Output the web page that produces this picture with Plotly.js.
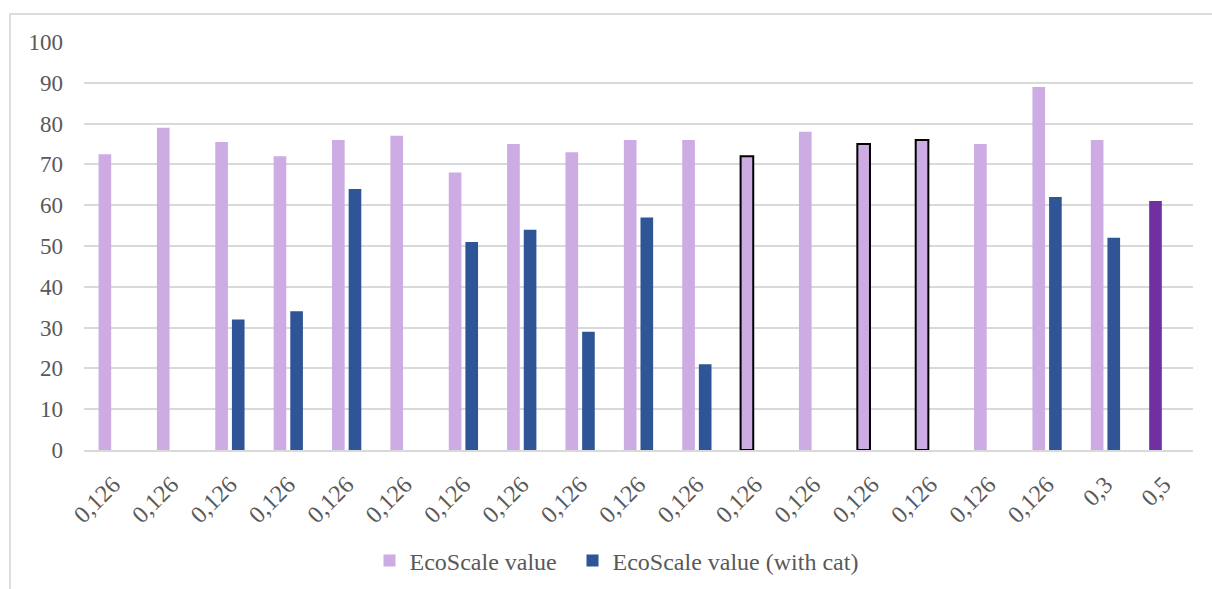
<!DOCTYPE html>
<html>
<head>
<meta charset="utf-8">
<script src="https://cdn.plot.ly/plotly-3.0.1.min.js"></script>
<style>
  html, body { margin: 0; padding: 0; background: #ffffff; }
  #wrap { position: relative; width: 1212px; height: 589px; overflow: hidden; }
  #frame {
    position: absolute; left: 9px; top: 13px; width: 1400px; height: 800px;
    border-left: 2px solid #dcdcdc; border-top: 2px solid #dcdcdc;
    pointer-events: none;
  }
  #chart { position: absolute; left: 0; top: 0; width: 1212px; height: 589px; }
</style>
</head>
<body>
<div id="wrap">
  <div id="chart"></div>
  <div id="frame"></div>
</div>
<script>
// Category labels along the x axis (catalyst loading)
const categories = [
  "0,126", "0,126", "0,126", "0,126", "0,126", "0,126", "0,126",
  "0,126", "0,126", "0,126", "0,126", "0,126", "0,126", "0,126",
  "0,126", "0,126", "0,126", "0,3", "0,5"
];

// EcoScale value
const ecoScale = [72.5, 79, 75.5, 72, 76, 77, 68, 75, 73, 76, 76, 72, 78, 75, 76, 75, 89, 76, 61];

// EcoScale value (with cat)
const ecoScaleCat = [null, null, 32, 34, 64, null, 51, 54, 29, 57, 21, null, null, null, null, null, 62, 52, null];

// Entries drawn with a black outline
const outlined = [false, false, false, false, false, false, false, false, false, false, false,
                  true, false, true, true, false, false, false, false];

const lightPurple = "#cdabe3";
const darkPurple = "#7030a0";
const blue = "#2f5597";

const positions = categories.map((_, i) => i);

const ecoColors = ecoScale.map((_, i) => (i === ecoScale.length - 1 ? darkPurple : lightPurple));
const ecoLineColors = outlined.map(o => (o ? "#000000" : "rgba(0,0,0,0)"));
const ecoLineWidths = outlined.map(o => (o ? 2 : 0));

const serif = "'Liberation Serif', 'Times New Roman', serif";

const traces = [
  {
    type: "bar",
    name: "EcoScale value",
    legend: "legend",
    x: positions,
    y: ecoScale,
    marker: { color: ecoColors, line: { color: ecoLineColors, width: ecoLineWidths } },
    hoverinfo: "y"
  },
  {
    type: "bar",
    name: "EcoScale value (with cat)",
    legend: "legend2",
    x: positions,
    y: ecoScaleCat,
    marker: { color: blue, line: { width: 0 } },
    hoverinfo: "y"
  }
];

const legendBase = {
  orientation: "h",
  xref: "container",
  yref: "container",
  xanchor: "center",
  y: 1 - 561 / 589,
  yanchor: "middle",
  font: { family: serif, size: 24, color: "#595959" },
  itemwidth: 30
};

const layout = {
  width: 1212,
  height: 589,
  paper_bgcolor: "rgba(0,0,0,0)",
  plot_bgcolor: "#ffffff",
  margin: { l: 84, r: 19, t: 42, b: 139 },
  barmode: "group",
  bargap: 0.43,
  bargroupgap: 0.24,
  showlegend: true,
  font: { family: serif, size: 23, color: "#595959" },
  xaxis: {
    range: [-0.5, categories.length - 0.5],
    tickmode: "array",
    tickvals: positions,
    ticktext: categories,
    tickangle: -45,
    ticks: "",
    showgrid: false,
    zeroline: false,
    showline: true,
    linecolor: "#d9d9d9",
    linewidth: 2,
    ticklabelstandoff: 9,
    tickfont: { family: serif, size: 24, color: "#595959" }
  },
  yaxis: {
    range: [0, 100],
    tickvals: [0, 10, 20, 30, 40, 50, 60, 70, 80, 90, 100],
    ticks: "",
    showgrid: true,
    gridcolor: "#d9d9d9",
    gridwidth: 2,
    zeroline: false,
    showline: false,
    ticklabelstandoff: 20,
    tickfont: { family: serif, size: 23, color: "#595959" }
  },
  legend: Object.assign({}, legendBase, { x: 466 / 1212 }),
  legend2: Object.assign({}, legendBase, { x: 718 / 1212 })
};

Plotly.newPlot("chart", traces, layout, { displayModeBar: false, staticPlot: true });
</script>
</body>
</html>
